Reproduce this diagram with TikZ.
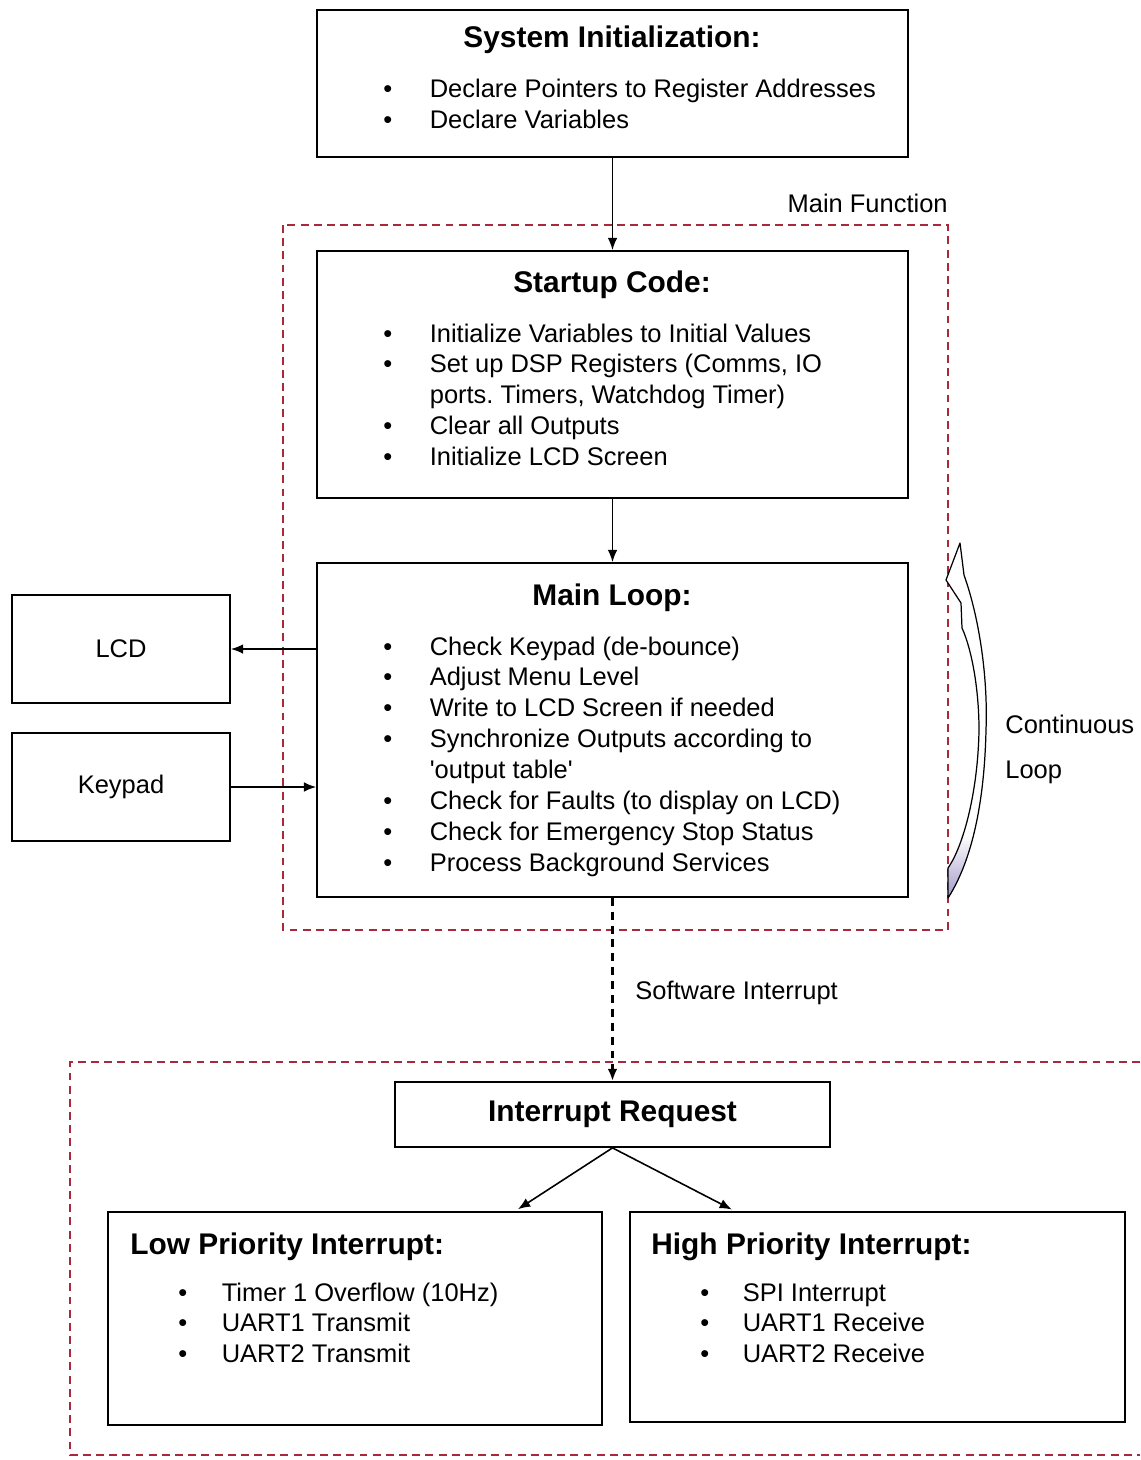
\documentclass[tikz,border=0pt]{standalone}
\usepackage{fontspec}
\setmainfont{Liberation Sans}
\usetikzlibrary{arrows.meta,positioning}
\definecolor{framered}{RGB}{170,40,60}
\definecolor{loopshade}{RGB}{160,150,200}
\newcommand{\bodyfont}{\fontsize{14.5}{17.6}\selectfont}
\newcommand{\headfont}{\fontsize{17}{20}\selectfont\bfseries}
% outline of the curved loop arrow
\newcommand{\loopband}{(960,543) -- (964,575) .. controls (980,620) and (988,680) .. (986,730)
  .. controls (984,820) and (966,870) .. (948,898) -- (948,868)
  .. controls (964,845) and (978,790) .. (979,730)
  .. controls (979,690) and (972,650) .. (962,628) -- (961,603)
  -- (946,580) -- cycle}
\tikzset{
    %Define standard arrow tip
    >={Latex[length=7pt,width=5.5pt]},
    %Define style for boxes
    block/.style={
           rectangle,
           draw=black, line width=1pt,
           font=\bodyfont,
           text centered},
    heading/.style={
           font=\headfont,
           inner sep=0pt},
    items/.style={
           anchor=north west,
           inner sep=0pt,
           font=\bodyfont},
    plain/.style={
           inner sep=0pt,
           font=\bodyfont},
    % Define frame and arrow styles
    frame/.style={
           draw=framered, line width=0.8pt,
           dash pattern=on 4.5pt off 3pt},
    pil/.style={
           ->,
           line width=0.9pt},
    swi/.style={
           ->,
           line width=1.6pt,
           dash pattern=on 4.5pt off 3.4pt}
}
\begin{document}
\frenchspacing
\begin{tikzpicture}[x=0.02cm,y=-0.02cm]
\useasboundingbox (0,0) rectangle (1140,1460);

 %frames
\draw[frame] (283,225) rectangle (948,930);
\node[plain, anchor=base east] (mainlabel) at (948,212) {Main Function};
\draw[frame] (1140,1062) -- (70,1062) -- (70,1455) -- (1140,1455);

 %boxes
\node[block, minimum width=11.82cm, minimum height=2.94cm] (sysinit) at (612.5,83.5) {};
\node[block, minimum width=11.82cm, minimum height=4.94cm] (startup) at (612.5,374.5) {};
\node[block, minimum width=11.82cm, minimum height=6.68cm] (mainloop) at (612.5,730) {};
\node[block, minimum width=4.36cm, minimum height=2.16cm] (lcd) at (121,649) {LCD};
\node[block, minimum width=4.36cm, minimum height=2.16cm] (keypad) at (121,787) {Keypad};
\node[block, font=\headfont, minimum width=8.7cm, minimum height=1.3cm] (irq) at (612.5,1114.5) {Interrupt Request};
\node[block, minimum width=9.88cm, minimum height=4.26cm] (lowprio) at (355,1318.5) {};
\node[block, minimum width=9.9cm, minimum height=4.2cm] (highprio) at (877.5,1317) {};

 %headings
\node[heading, anchor=base] (sysinittitle) at (612,48) {System Initialization:};
\node[heading, anchor=base] (startuptitle) at (612,292) {Startup Code:};
\node[heading, anchor=base] (looptitle) at (612,605) {Main Loop:};
\node[heading, anchor=base west] (lowtitle) at (130,1254) {Low Priority Interrupt:};
\node[heading, anchor=base west] (hightitle) at (651,1254) {High Priority Interrupt:};

 %bullet lists
\node[items] (sysinititems) at (383,76) {\begin{tabular}{@{}p{0.93cm}@{}l@{}}
  \textbullet & Declare Pointers to Register Addresses\\
  \textbullet & Declare Variables
\end{tabular}};
\node[items] (startupitems) at (383,320) {\begin{tabular}{@{}p{0.93cm}@{}l@{}}
  \textbullet & Initialize Variables to Initial Values\\
  \textbullet & Set up DSP Registers (Comms, IO\\
              & ports. Timers, Watchdog Timer)\\
  \textbullet & Clear all Outputs\\
  \textbullet & Initialize LCD Screen
\end{tabular}};
\node[items] (loopitems) at (383,633) {\begin{tabular}{@{}p{0.93cm}@{}l@{}}
  \textbullet & Check Keypad (de-bounce)\\
  \textbullet & Adjust Menu Level\\
  \textbullet & Write to LCD Screen if needed\\
  \textbullet & Synchronize Outputs according to\\
              & \textquotesingle output table\textquotesingle\\
  \textbullet & Check for Faults (to display on LCD)\\
  \textbullet & Check for Emergency Stop Status\\
  \textbullet & Process Background Services
\end{tabular}};
\node[items] (lowitems) at (178,1279) {\begin{tabular}{@{}p{0.87cm}@{}l@{}}
  \textbullet & Timer 1 Overflow (10Hz)\\
  \textbullet & UART1 Transmit\\
  \textbullet & UART2 Transmit
\end{tabular}};
\node[items] (highitems) at (700,1279) {\begin{tabular}{@{}p{0.85cm}@{}l@{}}
  \textbullet & SPI Interrupt\\
  \textbullet & UART1 Receive\\
  \textbullet & UART2 Receive
\end{tabular}};

 %connectors
\draw[pil] (sysinit) -- (startup);
\draw[pil] (startup) -- (mainloop);
\draw[pil] (mainloop.west |- lcd.east) -- (lcd.east);
\draw[pil] (keypad.east) -- (keypad.east -| mainloop.west);
\draw[swi] (mainloop.south) -- (irq.north);
\node[plain, anchor=base west] (swilabel) at (635,999) {Software Interrupt};
\draw[pil, shorten >=2pt] (irq.south) -- ([xshift=3.2cm]lowprio.north);
\draw[pil, shorten >=2pt] (irq.south) -- ([xshift=-2.85cm]highprio.north);

 %continuous loop arrow, shaded at its foot
\fill[white] \loopband;
\begin{scope}
  \clip \loopband;
  \shade[top color=white, bottom color=loopshade] (940,835) rectangle (995,900);
\end{scope}
\draw[line width=0.7pt, line join=round] \loopband;
\node[plain, anchor=base west] (looplabel) at (1005,733) {Continuous};
\node[plain, anchor=base west] (looplabel2) at (1005,778) {Loop};
\end{tikzpicture}
\end{document}
